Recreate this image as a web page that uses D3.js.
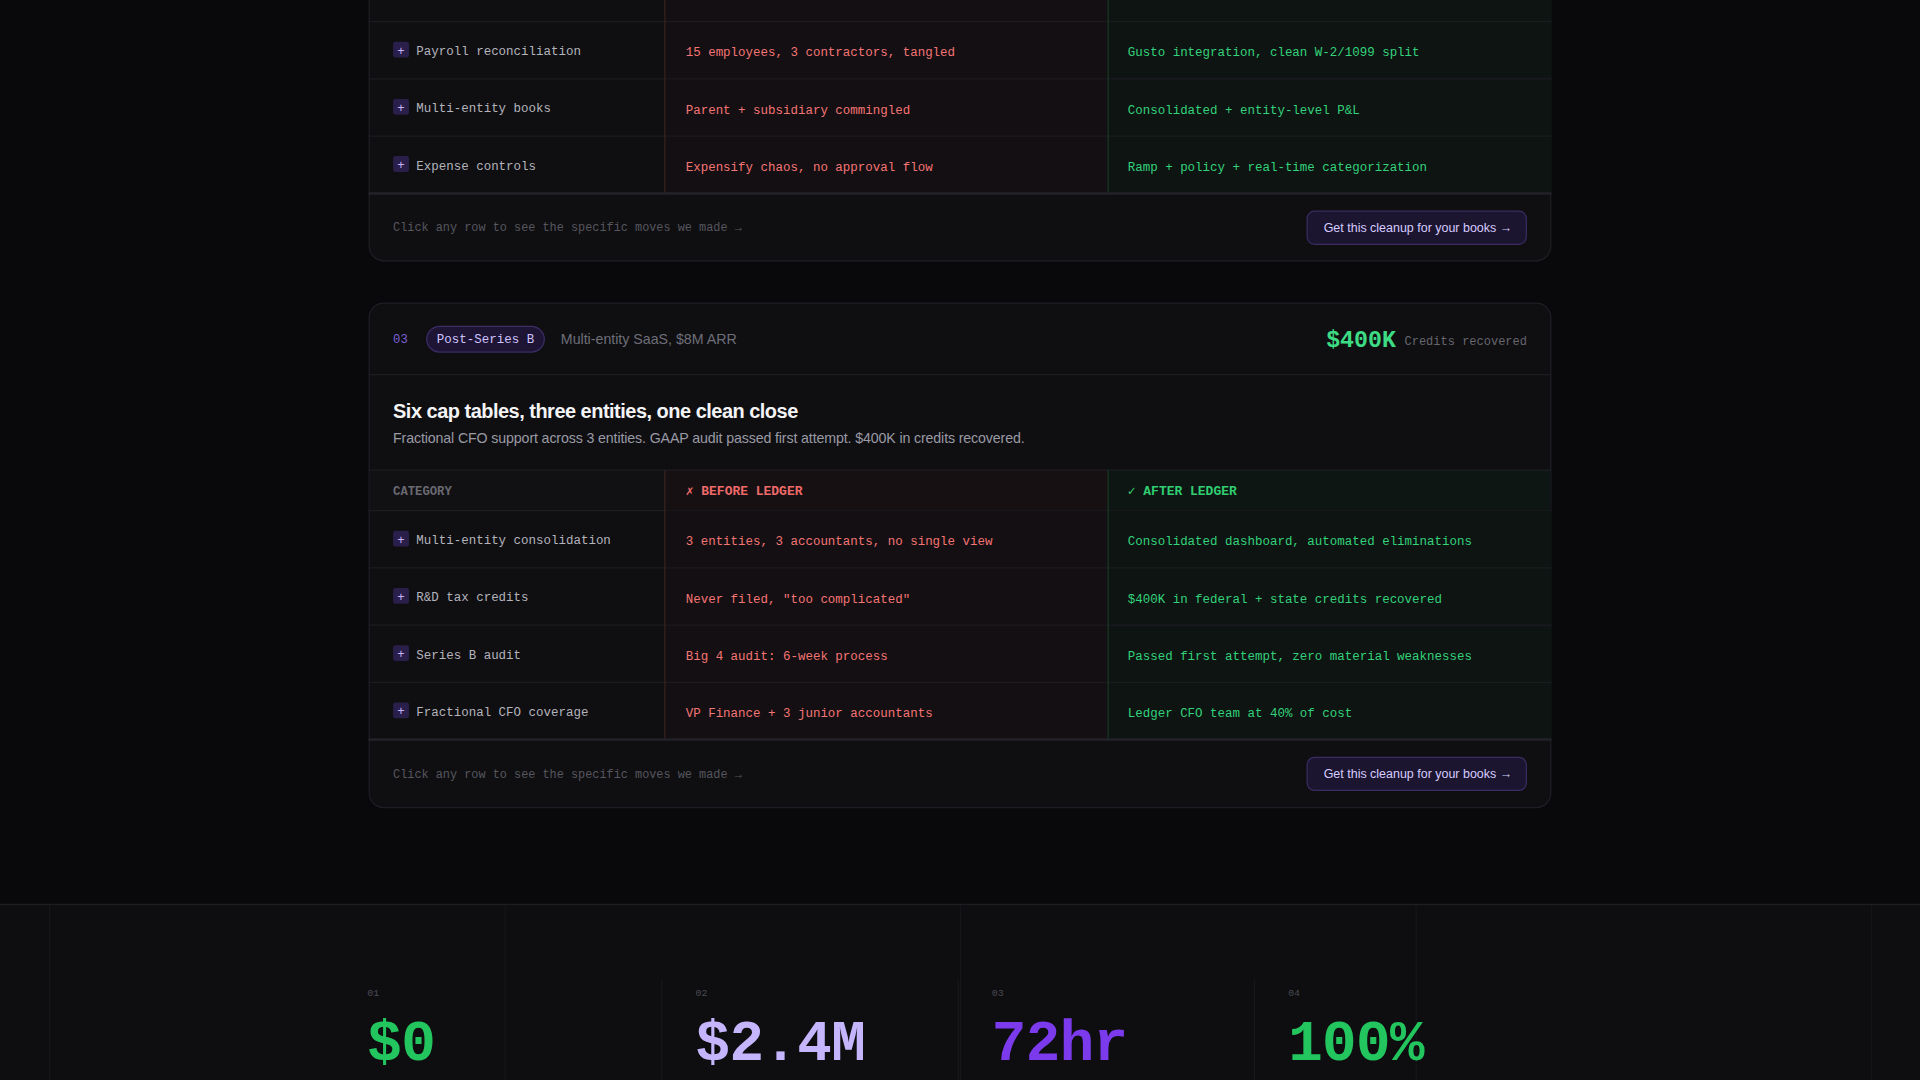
<!DOCTYPE html>
<html>
<head>
<meta charset="utf-8">
<script src="https://cdn.jsdelivr.net/npm/d3@7"></script>
<style>
    html, body { margin: 0; padding: 0; background: #09090c; overflow: hidden; }
    svg { display: block; }
    .mono { font-family: "Liberation Mono", "DejaVu Sans Mono", monospace; }
    .sans { font-family: "Liberation Sans", Arial, sans-serif; }
</style>
</head>
<body>
<svg id="chart" width="1920" height="1080" viewBox="0 0 1568 882"></svg>
<script>
// card 1 (cut off at top)
var card1Categories = ["Payroll reconciliation", "Multi-entity books", "Expense controls"];
var card1Before = ["15 employees, 3 contractors, tangled", "Parent + subsidiary commingled", "Expensify chaos, no approval flow"];
var card1After = ["Gusto integration, clean W-2/1099 split", "Consolidated + entity-level P&L", "Ramp + policy + real-time categorization"];

// card 2
var card2Categories = ["Multi-entity consolidation", "R&D tax credits", "Series B audit", "Fractional CFO coverage"];
var card2Before = ["3 entities, 3 accountants, no single view", "Never filed, \"too complicated\"", "Big 4 audit: 6-week process", "VP Finance + 3 junior accountants"];
var card2After = ["Consolidated dashboard, automated eliminations", "$400K in federal + state credits recovered", "Passed first attempt, zero material weaknesses", "Ledger CFO team at 40% of cost"];

// stats band
var statIndex = ["01", "02", "03", "04"];
var statValues = ["$0", "$2.4M", "72hr", "100%"];
var statColors = ["#22c55e", "#c4b5fd", "#7c3aed", "#22c55e"];

var svg = d3.select("#chart");
var cardX = 301, cardW = 966;
var colX = d3.scaleOrdinal().domain(["cat", "before", "after"]).range([301, 543, 905]);
var colW = 362;

svg.append("rect").attr("width", 1568).attr("height", 882).attr("fill", "#09090c");

function drawRows(g, cats, before, after, top, rowH) {
    var y = d3.scaleBand().domain(d3.range(cats.length)).range([top, top + rowH * cats.length]);
    g.append("rect").attr("x", colX("before")).attr("y", top).attr("width", colW)
        .attr("height", rowH * cats.length).attr("fill", "#140f12");
    g.append("rect").attr("x", colX("after")).attr("y", top).attr("width", colW)
        .attr("height", rowH * cats.length).attr("fill", "#0d1412");
    var row = g.selectAll("g.row").data(cats).enter().append("g").attr("class", "row")
        .attr("transform", function (d, i) { return "translate(0," + y(i) + ")"; });
    row.append("line").attr("x1", cardX).attr("x2", cardX + cardW).attr("y1", rowH).attr("y2", rowH)
        .attr("stroke", "#1b1b20");
    row.append("rect").attr("x", 321).attr("y", rowH / 2 - 7).attr("width", 13).attr("height", 13)
        .attr("rx", 2).attr("fill", "#2a1f4a");
    row.append("text").attr("class", "mono").attr("x", 327.5).attr("y", rowH / 2 + 3.5)
        .attr("text-anchor", "middle").attr("font-size", 10).attr("fill", "#c4b5fd").text("+");
    row.append("text").attr("class", "mono").attr("x", 340).attr("y", rowH / 2 + 4)
        .attr("font-size", 10.2).attr("fill", "#b4b4bc").text(function (d) { return d; });
    row.append("text").attr("class", "mono").attr("x", 560).attr("y", rowH / 2 + 5)
        .attr("font-size", 10.2).attr("fill", "#f47575").text(function (d, i) { return before[i]; });
    row.append("text").attr("class", "mono").attr("x", 921).attr("y", rowH / 2 + 5)
        .attr("font-size", 10.2).attr("fill", "#34d27a").text(function (d, i) { return after[i]; });
    return y;
}

function drawFooter(g, top) {
    g.append("text").attr("class", "mono").attr("x", 321).attr("y", top + 31)
        .attr("font-size", 9.7).attr("fill", "#56565e").text("Click any row to see the specific moves we made \u2192");
    g.append("rect").attr("x", 1067.5).attr("y", top + 14.5).attr("width", 179).attr("height", 27)
        .attr("rx", 6).attr("fill", "#1c1530").attr("stroke", "#3a2c63");
    g.append("text").attr("class", "sans").attr("x", 1081).attr("y", top + 31.5)
        .attr("font-size", 10.2).attr("fill", "#d6ccff").text("Get this cleanup for your books  \u2192");
}

// ---- card 1 ----
var c1 = svg.append("g");
c1.append("rect").attr("x", cardX + 0.5).attr("y", -40).attr("width", cardW - 1).attr("height", 253)
    .attr("rx", 12).attr("fill", "#0f0f12").attr("stroke", "#1e1e24");
drawRows(c1, [""].concat(card1Categories), [""].concat(card1Before), [""].concat(card1After), -29, 46.7);
c1.selectAll("g.row").filter(function (d, i) { return i === 0; }).selectAll("text,rect").remove();
c1.append("line").attr("x1", 543).attr("x2", 543).attr("y1", -40).attr("y2", 158).attr("stroke", "#3a2320");
c1.append("line").attr("x1", 905).attr("x2", 905).attr("y1", -40).attr("y2", 158).attr("stroke", "#173a25");
c1.append("line").attr("x1", cardX).attr("x2", cardX + cardW).attr("y1", 158).attr("y2", 158).attr("stroke", "#222228").attr("stroke-width", 2);
drawFooter(c1, 158);

// ---- card 2 ----
var c2 = svg.append("g");
c2.append("rect").attr("x", cardX + 0.5).attr("y", 247.5).attr("width", cardW - 1).attr("height", 412)
    .attr("rx", 12).attr("fill", "#0f0f12").attr("stroke", "#1e1e26");
c2.append("text").attr("class", "mono").attr("x", 321).attr("y", 280).attr("font-size", 10).attr("fill", "#7c5fd6").text("03");
c2.append("rect").attr("x", 348.5).attr("y", 266.5).attr("width", 96).attr("height", 21).attr("rx", 10.5)
    .attr("fill", "#1e1535").attr("stroke", "#3b2d66");
c2.append("text").attr("class", "mono").attr("x", 396.5).attr("y", 280.5).attr("text-anchor", "middle")
    .attr("font-size", 10.2).attr("fill", "#d0c4ff").text("Post-Series B");
c2.append("text").attr("class", "sans").attr("x", 458).attr("y", 281).attr("font-size", 11.6).attr("fill", "#6e6e78").text("Multi-entity SaaS, $8M ARR");
c2.append("text").attr("class", "mono").attr("x", 1247).attr("y", 282).attr("text-anchor", "end")
    .attr("font-size", 9.8).attr("fill", "#66666e").text("Credits recovered");
c2.append("text").attr("class", "mono").attr("x", 1140).attr("y", 283).attr("text-anchor", "end")
    .attr("font-size", 19).attr("font-weight", "bold").attr("fill", "#3ddc84").text("$400K");
c2.append("line").attr("x1", cardX).attr("x2", cardX + cardW).attr("y1", 306).attr("y2", 306).attr("stroke", "#1c1c22");
c2.append("text").attr("class", "sans").attr("x", 321).attr("y", 341).attr("font-size", 16.3)
    .attr("font-weight", "bold").attr("fill", "#f4f4f6").attr("letter-spacing", -0.4).text("Six cap tables, three entities, one clean close");
c2.append("text").attr("class", "sans").attr("x", 321).attr("y", 362).attr("font-size", 11.6)
    .attr("fill", "#9a9aa4").attr("letter-spacing", -0.1).text("Fractional CFO support across 3 entities. GAAP audit passed first attempt. $400K in credits recovered.");

// table header
c2.append("rect").attr("x", cardX + 1).attr("y", 384).attr("width", cardW - 2).attr("height", 33).attr("fill", "#111114");
c2.append("rect").attr("x", 543).attr("y", 384).attr("width", colW).attr("height", 33).attr("fill", "#161013");
c2.append("rect").attr("x", 905).attr("y", 384).attr("width", colW - 1).attr("height", 33).attr("fill", "#0e1613");
c2.append("line").attr("x1", cardX).attr("x2", cardX + cardW).attr("y1", 384).attr("y2", 384).attr("stroke", "#1c1c22");
c2.append("line").attr("x1", cardX).attr("x2", cardX + cardW).attr("y1", 417).attr("y2", 417).attr("stroke", "#1c1c22");
c2.append("text").attr("class", "mono").attr("x", 321).attr("y", 404).attr("font-size", 10)
    .attr("font-weight", "bold").attr("fill", "#6a6a72").text("CATEGORY");
c2.append("text").attr("class", "mono").attr("x", 560).attr("y", 404).attr("font-size", 10.6)
    .attr("font-weight", "bold").attr("fill", "#f06a6a").text("\u2717 BEFORE LEDGER");
c2.append("text").attr("class", "mono").attr("x", 921).attr("y", 404).attr("font-size", 10.6)
    .attr("font-weight", "bold").attr("fill", "#2fcf72").text("\u2713 AFTER LEDGER");
drawRows(c2, card2Categories, card2Before, card2After, 417, 46.75);
c2.append("line").attr("x1", 543).attr("x2", 543).attr("y1", 384).attr("y2", 604).attr("stroke", "#3a2320");
c2.append("line").attr("x1", 905).attr("x2", 905).attr("y1", 384).attr("y2", 604).attr("stroke", "#173a25");
c2.append("line").attr("x1", cardX).attr("x2", cardX + cardW).attr("y1", 604).attr("y2", 604).attr("stroke", "#222228").attr("stroke-width", 2);
drawFooter(c2, 604);

// ---- stats band ----
var band = svg.append("g");
band.append("rect").attr("x", 0).attr("y", 738).attr("width", 1568).attr("height", 144).attr("fill", "#0e0e11");
band.append("line").attr("x1", 0).attr("x2", 1568).attr("y1", 738.5).attr("y2", 738.5).attr("stroke", "#1e1e23");
band.selectAll("line.grid").data([40, 412, 784, 1156, 1528]).enter().append("line").attr("class", "grid")
    .attr("x1", function (d) { return d + 0.5; }).attr("x2", function (d) { return d + 0.5; })
    .attr("y1", 739).attr("y2", 882).attr("stroke", "#16161a");

var statPos = d3.scaleOrdinal().domain(statIndex).range([300, 568, 810, 1052]);
var stat = band.selectAll("g.stat").data(statIndex).enter().append("g").attr("class", "stat")
    .attr("transform", function (d) { return "translate(" + statPos(d) + ",0)"; });
stat.filter(function (d, i) { return i > 0; }).append("line")
    .attr("x1", -27.5).attr("x2", -27.5).attr("y1", 800).attr("y2", 882).attr("stroke", "#18181c");
stat.append("text").attr("class", "mono").attr("x", 0).attr("y", 813).attr("font-size", 8)
    .attr("fill", "#4a4a52").text(function (d) { return d; });
stat.append("text").attr("class", "mono").attr("x", 0).attr("y", 866).attr("font-size", 47)
    .attr("font-weight", "bold").attr("letter-spacing", -0.5)
    .attr("fill", function (d, i) { return statColors[i]; })
    .text(function (d, i) { return statValues[i]; });
</script>
</body>
</html>
